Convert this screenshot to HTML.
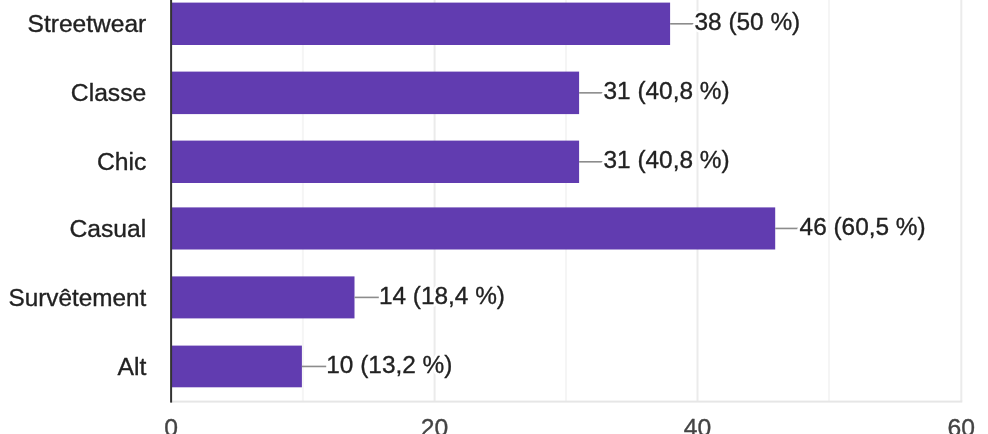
<!DOCTYPE html><html><head><meta charset="utf-8"><style>html,body{margin:0;padding:0;background:#fff;width:988px;height:434px;overflow:hidden}svg{display:block;will-change:transform}text{font-family:"Liberation Sans",Arial,sans-serif;font-size:24.7px;stroke-width:0.35px;stroke-linejoin:round}.v{font-size:24.4px}</style></head><body>
<svg width="988" height="434" viewBox="0 0 988 434">
<rect x="0" y="0" width="988" height="434" fill="#ffffff"/>
<rect x="301.90" y="0" width="2" height="401.60" fill="#f5f5f5"/>
<rect x="433.60" y="0" width="2" height="401.60" fill="#ebebeb"/>
<rect x="565.00" y="0" width="2" height="401.60" fill="#f5f5f5"/>
<rect x="696.50" y="0" width="2" height="401.60" fill="#ebebeb"/>
<rect x="828.00" y="0" width="2" height="401.60" fill="#f5f5f5"/>
<rect x="960.30" y="0" width="2" height="401.60" fill="#ebebeb"/>
<rect x="171.10" y="400.60" width="791.20" height="2.0" fill="#e6e6e6"/>
<rect x="172.00" y="2.60" width="498.10" height="42.40" fill="#613cb0"/>
<rect x="670.10" y="23.00" width="24.30" height="1.6" fill="#8c8c8c"/>
<text x="146.30" y="32" text-anchor="end" style="font-size:24.55px" fill="#222222" stroke="#222222">Streetwear</text>
<text x="694.50" y="30" class="v" fill="#fff" stroke="#fff" style="stroke-width:5.5px">38 (50 %)</text>
<text x="694.50" y="30" class="v" fill="#222222" stroke="#222222">38 (50 %)</text>
<rect x="172.00" y="71.60" width="407.10" height="42.50" fill="#613cb0"/>
<rect x="579.10" y="92.05" width="24.30" height="1.6" fill="#8c8c8c"/>
<text x="146.30" y="101" text-anchor="end" style="font-size:24.7px" fill="#222222" stroke="#222222">Classe</text>
<text x="603.50" y="99" class="v" fill="#fff" stroke="#fff" style="stroke-width:5.5px">31 (40,8 %)</text>
<text x="603.50" y="99" class="v" fill="#222222" stroke="#222222">31 (40,8 %)</text>
<rect x="172.00" y="140.60" width="407.10" height="42.40" fill="#613cb0"/>
<rect x="579.10" y="161.00" width="24.30" height="1.6" fill="#8c8c8c"/>
<text x="146.30" y="170" text-anchor="end" style="font-size:24.7px" fill="#222222" stroke="#222222">Chic</text>
<text x="603.50" y="168" class="v" fill="#fff" stroke="#fff" style="stroke-width:5.5px">31 (40,8 %)</text>
<text x="603.50" y="168" class="v" fill="#222222" stroke="#222222">31 (40,8 %)</text>
<rect x="172.00" y="207.40" width="603.20" height="42.10" fill="#613cb0"/>
<rect x="775.20" y="227.65" width="24.30" height="1.6" fill="#8c8c8c"/>
<text x="146.30" y="237" text-anchor="end" style="font-size:24.7px" fill="#222222" stroke="#222222">Casual</text>
<text x="799.60" y="235" class="v" fill="#fff" stroke="#fff" style="stroke-width:5.5px">46 (60,5 %)</text>
<text x="799.60" y="235" class="v" fill="#222222" stroke="#222222">46 (60,5 %)</text>
<rect x="172.00" y="276.40" width="182.50" height="42.00" fill="#613cb0"/>
<rect x="354.50" y="296.60" width="24.30" height="1.6" fill="#8c8c8c"/>
<text x="146.30" y="306" text-anchor="end" style="font-size:24.3px" fill="#222222" stroke="#222222">Survêtement</text>
<text x="378.90" y="304" class="v" fill="#fff" stroke="#fff" style="stroke-width:5.5px">14 (18,4 %)</text>
<text x="378.90" y="304" class="v" fill="#222222" stroke="#222222">14 (18,4 %)</text>
<rect x="172.00" y="345.60" width="129.90" height="41.70" fill="#613cb0"/>
<rect x="301.90" y="365.65" width="24.30" height="1.6" fill="#8c8c8c"/>
<text x="146.30" y="375" text-anchor="end" style="font-size:24.7px" fill="#222222" stroke="#222222">Alt</text>
<text x="326.30" y="373" class="v" fill="#fff" stroke="#fff" style="stroke-width:5.5px">10 (13,2 %)</text>
<text x="326.30" y="373" class="v" fill="#222222" stroke="#222222">10 (13,2 %)</text>
<rect x="170.10" y="0" width="2.0" height="402.60" fill="#333333"/>
<text x="171.10" y="436.00" text-anchor="middle"  fill="#444444" stroke="#444444">0</text>
<text x="434.60" y="436.00" text-anchor="middle"  fill="#444444" stroke="#444444">20</text>
<text x="697.50" y="436.00" text-anchor="middle"  fill="#444444" stroke="#444444">40</text>
<text x="961.30" y="436.00" text-anchor="middle"  fill="#444444" stroke="#444444">60</text>
</svg></body></html>
